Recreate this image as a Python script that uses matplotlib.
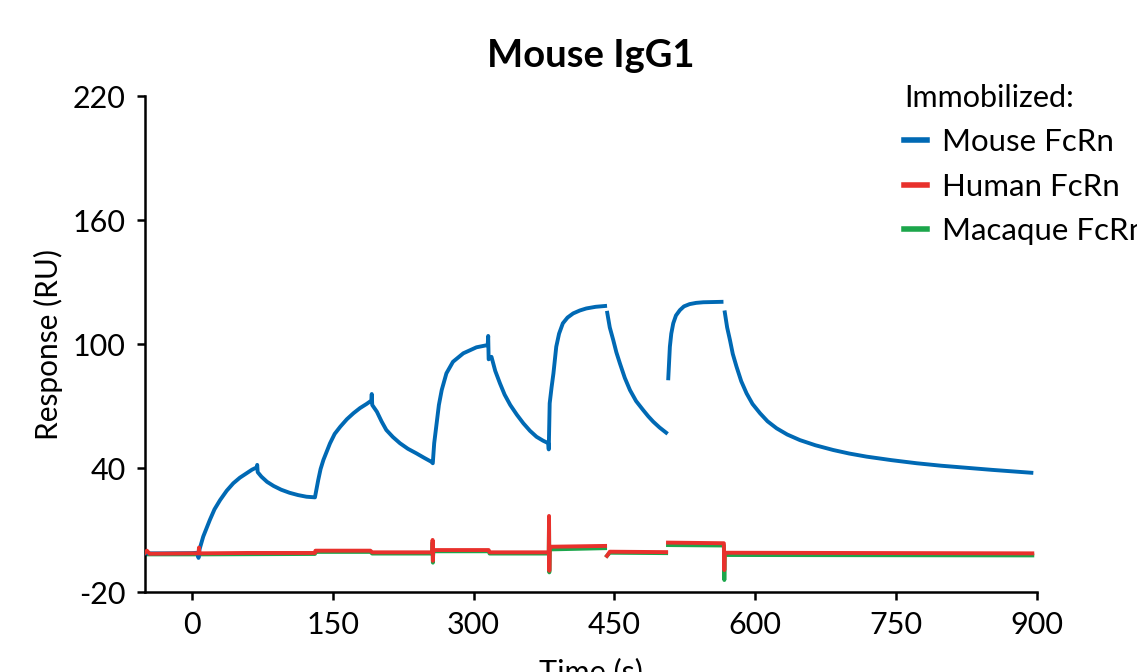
import numpy as np
import matplotlib
matplotlib.use("Agg")
import matplotlib.pyplot as plt

nan = np.nan

# Mouse FcRn (blue); nan = gap between segments
mouse_t = [-52, -30, 0, 6, 7, 8, 12, 19, 24, 30, 37, 44, 51, 58, 64, 69, 69.5, 70,
           74, 80, 87, 95, 104, 113, 122, 131,
           134.5, 137, 140, 147, 152, 158, 165, 172, 179, 186, 191, 191.5, 192,
           197, 202, 207, 214, 221.5, 230, 239, 247, 255,
           256.5, 258, 260.6, 263, 266, 271, 278, 289, 303, 315, 315.5, 316,
           319, 323, 328, 333, 339, 346, 353, 360, 367, 374, 379.5, 380,
           381, 383, 385, 388, 391, 395, 400, 406, 413, 420, 430, 440, nan,
           442.3, 445, 448.7, 452, 455.8, 461, 466.5, 473, 480.6, 486, 491.3, 498, 505, nan,
           507.3, 509, 510.5, 512.6, 515.5, 519.7, 524, 530, 537, 544.6, 554, 564, nan,
           567.5, 570, 573, 576, 580, 585, 590.7, 597, 605, 613, 622.7, 634, 647.5,
           664, 683, 700, 718.5, 745, 771.8, 798, 825, 852, 878, 894]
mouse_ru = [-1.3, -1.3, -1.2, -1.0, -3.5, 0.5, 6.8, 14.8, 20, 24.5, 29, 32.6, 35.3, 37.4, 39.2, 40.3, 41.5, 38,
            35.8, 33.3, 31.3, 29.5, 28, 26.9, 26.1, 25.8,
            34.2, 39.5, 43.9, 51.9, 56.5, 60, 63.6, 66.5, 69, 71, 72.6, 75.8, 70.5,
            67.2, 62.5, 58.4, 55, 52, 49.3, 47.1, 45, 43,
            42.3, 52, 61.6, 70.5, 77.7, 85.8, 91.4, 95.5, 98.4, 99.5, 103.9, 92.6,
            93.8, 87, 81, 75.5, 70.5, 65.8, 61.6, 58, 55.1, 53.2, 52, 49,
            71.3, 79, 85.8, 98.7, 105, 110, 112.8, 114.8, 116.2, 117.2, 118, 118.4, nan,
            115.1, 108, 101.9, 96, 90.6, 83.6, 77.7, 72.4, 68, 65, 62.4, 59.6, 57.1, nan,
            83.4, 98.7, 105, 110, 113.8, 116.4, 118.2, 119.3, 119.9, 120.2, 120.3, 120.4, nan,
            115.3, 108, 101.9, 95.2, 89, 82, 76.1, 71, 66.5, 62.6, 59.2, 56.2, 53.5,
            51, 48.7, 47, 45.5, 43.8, 42.3, 41.1, 40.1, 39.1, 38.2, 37.7]

# Human FcRn (red)
human_t = [-52, -48, -45, 0, 7, 7.5, 8, 60, 131, 131.5, 190, 192, 256, 256.3, 256.6, 257,
           316, 317, 380, 380.3, 380.6, 381, 440, nan, 442, 445, 505, nan,
           507, 566, 566.5, 567, 567.5, 895]
human_ru = [-2, 0, -1.5, -1.3, -1.3, 1.5, -1.3, -1.1, -1.1, 0, 0, -0.8, -0.8, 5.2, -4.9, 0.3,
            0.3, -0.8, -0.8, 16.8, -9.7, 1.9, 2.3, nan, -2.5, -0.5, -0.7, nan,
            3.9, 3.6, 3.6, -9.4, -1.0, -1.3]

# Macaque FcRn (green)
macaque_t = [-52, 0, 7, 8, 131, 131.5, 190, 192, 256, 256.3, 256.6, 257,
             316, 317, 380, 380.3, 380.6, 381, 440, nan, 442, 445, 505, nan,
             507, 566, 566.5, 567, 567.5, 895]
macaque_ru = [-1.8, -1.8, -1.8, -1.8, -1.6, -0.6, -0.6, -1.4, -1.4, 4, -5.8, -0.3,
              -0.3, -1.4, -1.4, 15, -10.5, 0.6, 1.2, nan, -2.5, -1.0, -1.2, nan,
              2.7, 2.5, 2.5, -14.2, -2.1, -2.3]

x_ticks = [0, 150, 300, 450, 600, 750, 900]
y_ticks = [-20, 40, 100, 160, 220]

blue = "#0069b4"
red = "#e8312c"
green = "#1ca64b"

plt.rcParams["font.family"] = ["Lato", "DejaVu Sans"]
plt.rcParams["axes.unicode_minus"] = False

fig = plt.figure(figsize=(11.37, 6.72), dpi=100)
ax = fig.add_axes([145 / 1137, 1 - 592 / 672, (1037 - 145) / 1137, (592 - 96) / 672])

ax.plot(macaque_t, macaque_ru, color=green, lw=2.8, label="Macaque FcRn", zorder=2)
ax.plot(mouse_t, mouse_ru, color=blue, lw=2.8, label="Mouse FcRn", zorder=3)
ax.plot(human_t, human_ru, color=red, lw=2.8, label="Human FcRn", zorder=4)

ax.set_xlim(-50, 900)
ax.set_ylim(-20, 220)
ax.set_xticks(x_ticks)
ax.set_yticks(y_ticks)
ax.tick_params(labelsize=22, width=1.8, length=6, pad=8, direction="out")
for s in ["top", "right"]:
    ax.spines[s].set_visible(False)
for s in ["left", "bottom"]:
    ax.spines[s].set_linewidth(1.8)

ax.set_xlabel("Time (s)", fontsize=22, labelpad=13)
ax.set_ylabel("Response (RU)", fontsize=21.5, labelpad=7)
ax.set_title("Mouse IgG1", fontsize=27.5, fontweight="bold", pad=21)

h, l = ax.get_legend_handles_labels()
order = [1, 2, 0]
leg = ax.legend([h[i] for i in order], [l[i] for i in order], title="Immobilized:",
                loc="upper left", bbox_to_anchor=(904 / 1137, 1 - 84 / 672),
                bbox_transform=fig.transFigure, frameon=False, fontsize=22.5,
                title_fontsize=22, handlelength=0.72, handletextpad=0.5,
                labelspacing=0.52, alignment="left", borderaxespad=0,
                borderpad=0)
for line in leg.get_lines():
    line.set_linewidth(4)

fig.savefig("out.png", dpi=100)
